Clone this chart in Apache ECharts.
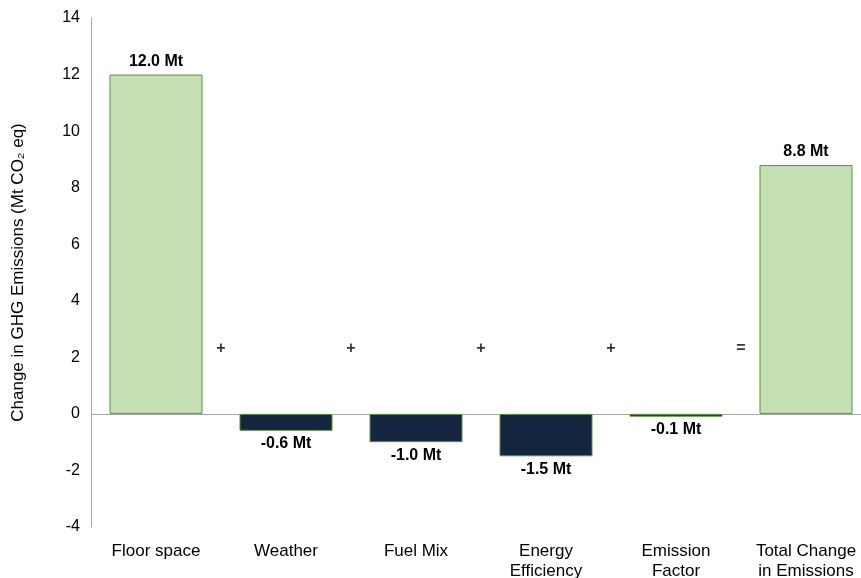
<!DOCTYPE html>
<html>
<head>
<meta charset="utf-8">
<script src="https://cdn.jsdelivr.net/npm/echarts@6/dist/echarts.min.js"></script>
<style>
  html, body { margin: 0; padding: 0; background: #fff; }
  #chart { width: 861px; height: 578px; }
</style>
</head>
<body>
<div id="chart"></div>
<script>
// Decomposition of the change in GHG emissions (Mt CO2 eq)
const categories = ['Floor space', 'Weather', 'Fuel Mix', 'Energy\nEfficiency', 'Emission\nFactor', 'Total Change\nin Emissions'];
const values = [12.0, -0.6, -1.0, -1.5, -0.1, 8.8];
const barKinds = ['total', 'effect', 'effect', 'effect', 'effect', 'total'];
const operators = ['+', '+', '+', '+', '='];
const operatorLevel = 2.3;
const yTicks = { min: -4, max: 14, step: 2 };

const FONT = '"Liberation Sans", Arial, sans-serif';
const fills = { total: '#c5e0b4', effect: '#13253f' };

const barData = values.map((v, i) => ({
  value: v,
  itemStyle: { color: fills[barKinds[i]] },
  label: { position: v >= 0 ? 'top' : 'bottom' }
}));

// operator signs sit on the boundaries between neighbouring categories
const opData = operators.map((s, i) => [i + 1, operatorLevel, s]);

const chart = echarts.init(document.getElementById('chart'), null, { renderer: 'canvas' });
chart.setOption({
  animation: false,
  backgroundColor: '#fff',
  grid: { left: 91, top: 18, width: 780, height: 509, containLabel: false, outerBoundsMode: 'none' },
  xAxis: [
    {
      type: 'category',
      data: categories,
      axisLine: { show: false, onZero: false },
      axisTick: { show: false },
      axisLabel: { color: '#000', fontFamily: FONT, fontSize: 17, margin: 14, lineHeight: 20, interval: 0 }
    },
    {
      type: 'value', min: 0, max: 6, show: false
    }
  ],
  yAxis: {
    type: 'value',
    min: yTicks.min, max: yTicks.max, interval: yTicks.step,
    name: 'Change in GHG Emissions (Mt CO₂ eq)',
    nameLocation: 'middle',
    nameGap: 64,
    nameTextStyle: { color: '#000', fontFamily: FONT, fontSize: 17 },
    axisLine: { show: true, lineStyle: { color: '#a6a6a6', width: 1 } },
    axisTick: { show: false },
    splitLine: { show: false },
    axisLabel: { color: '#000', fontFamily: FONT, fontSize: 16, margin: 11 }
  },
  series: [
    {
      type: 'bar',
      data: barData,
      barWidth: 93,
      itemStyle: { borderColor: '#5f8f3e', borderWidth: 1 },
      label: {
        show: true,
        color: '#000',
        fontFamily: FONT,
        fontSize: 16,
        fontWeight: 'bold',
        distance: 5,
        formatter: p => p.value.toFixed(1) + ' Mt'
      },
      markLine: {
        silent: true,
        symbol: ['none', 'none'],
        label: { show: false },
        lineStyle: { color: '#a6a6a6', type: 'solid', width: 1 },
        data: [{ yAxis: 0 }],
        z: 1
      },
      z: 2
    },
    {
      type: 'scatter',
      xAxisIndex: 1,
      data: opData,
      symbolSize: 0,
      label: {
        show: true,
        position: 'inside',
        color: '#000',
        fontFamily: FONT,
        fontSize: 16,
        fontWeight: 'bold',
        formatter: p => p.value[2]
      }
    }
  ]
});
</script>
</body>
</html>
